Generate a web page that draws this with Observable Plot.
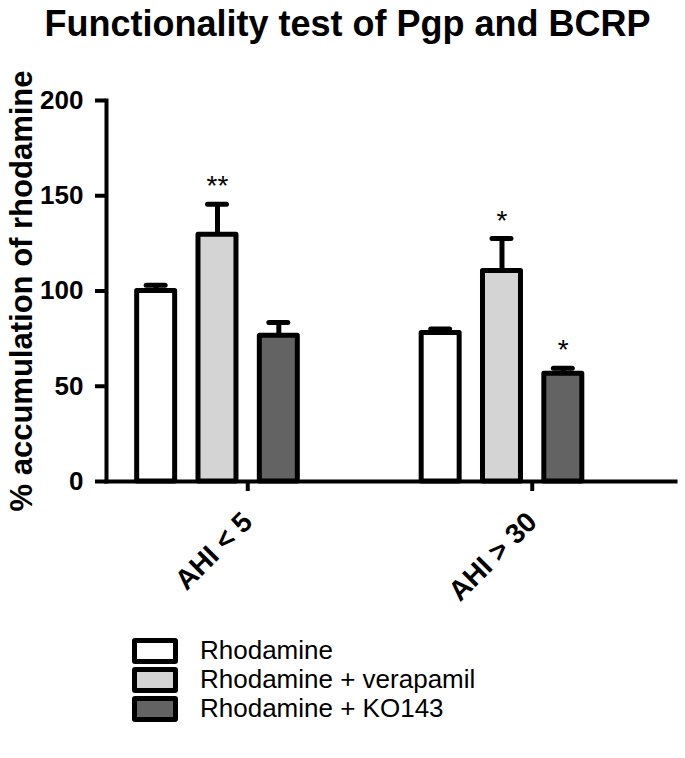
<!DOCTYPE html>
<html><head><meta charset="utf-8">
<script src="https://cdn.jsdelivr.net/npm/d3@7"></script>
<script src="https://cdn.jsdelivr.net/npm/@observablehq/plot@0.6"></script>
<style>
body{margin:0;background:#fff;font-family:"Liberation Sans",Arial,sans-serif;}
#title{height:60px;box-sizing:border-box;padding-top:6px;padding-left:10px;text-align:center;font-size:36px;line-height:36px;font-weight:bold;white-space:nowrap;}
#chart svg{display:block;}
#legend{padding-left:132px;padding-top:16px;}
.row{display:flex;align-items:center;height:29px;font-size:26px;line-height:29px;}
.sw{width:46px;height:26px;box-sizing:border-box;border:5px solid #000;border-radius:3px;margin-right:22px;}
</style></head><body>
<div id="title"></div>
<div id="chart"></div>
<div id="legend"></div>
<script>
const titleText = "Functionality test of Pgp and BCRP";
const yLabel = "% accumulation of rhodamine";
const groups = ["AHI < 5", "AHI > 30"];
const series = ["Rhodamine", "Rhodamine + verapamil", "Rhodamine + KO143"];
const colors = ["#ffffff", "#d4d4d4", "#636363"];
const meansAHI5 = [100, 129.5, 76.5];
const errAHI5 = [3, 16, 7];
const sigAHI5 = ["", "**", ""];
const meansAHI30 = [78, 110.5, 56.5];
const errAHI30 = [2, 17, 3];
const sigAHI30 = ["", "*", "*"];
const yTicks = [0, 50, 100, 150, 200];

const byGroup = [[meansAHI5, errAHI5, sigAHI5], [meansAHI30, errAHI30, sigAHI30]];
const data = [];
groups.forEach((g, gi) => series.forEach((s, si) => {
  const [m, e, sg] = byGroup[gi];
  data.push({group: g, series: s, mean: m[si], err: e[si], sig: sg[si]});
}));

document.getElementById("title").textContent = titleText;

const font = '"Liberation Sans", Arial, sans-serif';
const chart = Plot.plot({
  width: 685, height: 560,
  marginLeft: 106, marginRight: 10, marginTop: 40, marginBottom: 139,
  style: {fontFamily: font, background: "white", overflow: "visible"},
  fx: {domain: groups, paddingInner: 0, paddingOuter: 0, round: false, axis: null, label: null},
  x: {domain: series, paddingInner: 0, paddingOuter: 0.8195, align: 0.189, round: false, axis: null},
  y: {domain: [0, 200], axis: null},
  color: {domain: series, range: colors},
  marks: [
    Plot.ruleX(data, {fx: "group", x: "series", y1: "mean", y2: d => d.mean + d.err, stroke: "black", strokeWidth: 5}),
    Plot.tickY(data, {fx: "group", x: "series", y: d => d.mean + d.err, stroke: "black", strokeWidth: 5, strokeLinecap: "round", insetLeft: 21.2, insetRight: 21.2}),
    Plot.barY(data, {fx: "group", x: "series", y: "mean", fill: "series", stroke: "black", strokeWidth: 5, strokeLinejoin: "round", insetLeft: 11.67, insetRight: 11.67}),
    Plot.text(data, {fx: "group", x: "series", y: d => d.mean + d.err, text: "sig", fontSize: 28, fill: "black", lineAnchor: "middle", dy: -18}),
    Plot.frame({anchor: "bottom", facet: "super", stroke: "black", strokeWidth: 4}),
    Plot.frame({anchor: "left", facet: "super", stroke: "black", strokeWidth: 4}),
    Plot.axisY({ticks: yTicks, tickSize: 11, tickPadding: 12, fontSize: 26, fontWeight: "bold", stroke: "black", strokeWidth: 4, fill: "black", label: null}),
    Plot.axisFx({anchor: "bottom", tickSize: 10, tickPadding: 26, tickRotate: -45, fontSize: 28, fontWeight: "bold", stroke: "black", strokeWidth: 4, fill: "black", dx: -1, label: null}),
    Plot.text([yLabel], {facet: "super", text: d => d, frameAnchor: "left", textAnchor: "middle", rotate: -90, dx: -75, lineAnchor: "bottom", fontSize: 31, fontWeight: "bold", fill: "black"})
  ]
});
document.getElementById("chart").appendChild(chart);

const legend = document.getElementById("legend");
series.forEach((s, i) => {
  const row = document.createElement("div");
  row.className = "row";
  const sw = document.createElement("div");
  sw.className = "sw";
  sw.style.background = colors[i];
  const label = document.createElement("span");
  label.textContent = s;
  row.appendChild(sw);
  row.appendChild(label);
  legend.appendChild(row);
});
</script>
</body></html>
